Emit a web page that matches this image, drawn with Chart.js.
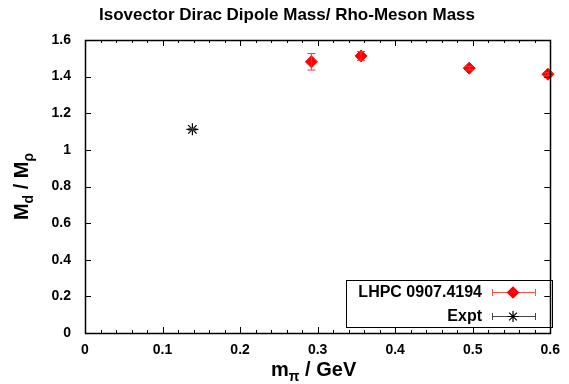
<!DOCTYPE html>
<html>
<head>
<meta charset="utf-8">
<script src="https://cdn.jsdelivr.net/npm/chart.js@4/dist/chart.umd.min.js"></script>
<style>
  html, body { margin: 0; padding: 0; background: #fff; }
  #wrap { width: 569px; height: 384px; }
</style>
</head>
<body>
<div id="wrap"><canvas id="chart" width="569" height="384"></canvas></div>
<script>
// data
const lhpcMpi = [0.292, 0.356, 0.4955, 0.597];
const lhpcRatio = [1.481, 1.513, 1.446, 1.413];
const lhpcErr = [0.045, 0.024, 0.010, 0.008];

const exptMpi = [0.1385];
const exptRatio = [1.112];
const exptErr = [0.005];

const xTickLabels = ['0', '0.1', '0.2', '0.3', '0.4', '0.5', '0.6'];
const yTickLabels = ['0', '0.2', '0.4', '0.6', '0.8', '1', '1.2', '1.4', '1.6'];

const seriesNames = ['LHPC 0907.4194', 'Expt'];

const FONT = '"Liberation Sans", Arial, sans-serif';

function toPoints(xs, ys, errs) {
    return xs.map((x, i) => ({ x: x, y: ys[i], err: errs[i] }));
}

// vertical error bars with caps
const errorBars = {
    id: 'errorBars',
    afterDatasetsDraw(chart) {
        const ctx = chart.ctx;
        const ys = chart.scales.y;
        chart.data.datasets.forEach((ds, di) => {
            const meta = chart.getDatasetMeta(di);
            ctx.save();
            ctx.strokeStyle = ds.errColor;
            ctx.lineWidth = 1;
            meta.data.forEach((el, i) => {
                const p = ds.data[i];
                const top = ys.getPixelForValue(p.y + p.err);
                const bot = ys.getPixelForValue(p.y - p.err);
                ctx.beginPath();
                ctx.moveTo(el.x, top); ctx.lineTo(el.x, bot);
                ctx.moveTo(el.x - 4, top); ctx.lineTo(el.x + 4, top);
                ctx.moveTo(el.x - 4, bot); ctx.lineTo(el.x + 4, bot);
                ctx.stroke();
            });
            ctx.restore();
        });
    }
};

// text with one subscript run: parts = [[text, isSub], ...]
function drawSubText(ctx, parts, x, y, bigFont, smallFont, align) {
    let total = 0;
    parts.forEach(p => { ctx.font = p[1] ? smallFont : bigFont; total += ctx.measureText(p[0]).width; });
    let cx = align === 'center' ? x - total / 2 : x;
    ctx.textAlign = 'left';
    parts.forEach(p => {
        ctx.font = p[1] ? smallFont : bigFont;
        ctx.fillText(p[0], cx, p[1] ? y + 5 : y);
        cx += ctx.measureText(p[0]).width;
    });
}

// gnuplot-style frame, inward ticks, titles and key
const decorations = {
    id: 'decorations',
    afterDraw(chart) {
        const ctx = chart.ctx;
        const a = chart.chartArea;
        const xs = chart.scales.x, ys = chart.scales.y;
        ctx.save();
        ctx.strokeStyle = '#000';
        ctx.lineWidth = 1;
        ctx.beginPath();
        for (let v = 0; v <= 0.6001; v += 0.02) {
            const px = Math.round(xs.getPixelForValue(v)) + 0.5;
            const major = Math.abs(v * 10 - Math.round(v * 10)) < 1e-6;
            const len = major ? 6 : 3;
            ctx.moveTo(px, a.bottom); ctx.lineTo(px, a.bottom - len);
            ctx.moveTo(px, a.top); ctx.lineTo(px, a.top + len);
        }
        for (let v = 0; v <= 1.6001; v += 0.2) {
            const py = Math.round(ys.getPixelForValue(v)) + 0.5;
            ctx.moveTo(a.left, py); ctx.lineTo(a.left + 6, py);
            ctx.moveTo(a.right, py); ctx.lineTo(a.right - 6, py);
        }
        ctx.stroke();
        ctx.lineWidth = 1.5;
        ctx.strokeRect(Math.round(a.left) + 0.5, Math.round(a.top) + 0.5,
            Math.round(a.right - a.left), Math.round(a.bottom - a.top));

        // title
        ctx.fillStyle = '#000';
        ctx.font = 'bold 17px ' + FONT;
        ctx.textAlign = 'center';
        ctx.textBaseline = 'alphabetic';
        ctx.fillText('Isovector Dirac Dipole Mass/ Rho-Meson Mass', 287, 20);

        const big = 'bold 20px ' + FONT, small = 'bold 14px ' + FONT;
        // x axis title: m_pi / GeV
        drawSubText(ctx, [['m', false], ['\u03c0', true], [' / GeV', false]],
            (a.left + a.right) / 2 - 4, 376, big, small, 'center');

        // y axis title: M_d / M_rho (rotated)
        ctx.save();
        ctx.translate(28, (a.top + a.bottom) / 2);
        ctx.rotate(-Math.PI / 2);
        drawSubText(ctx, [['M', false], ['d', true], [' / M', false], ['\u03c1', true]],
            0, 0, big, small, 'center');
        ctx.restore();

        // key box
        ctx.lineWidth = 1;
        ctx.strokeRect(346.5, 280.5, 206, 47);
        ctx.font = 'bold 16px ' + FONT;
        ctx.textAlign = 'right';
        ctx.textBaseline = 'middle';
        const rows = [
            { y: 292, color: '#ff0000', err: '#ff5050', style: 'rectRot' },
            { y: 316, color: '#000', err: '#444', style: 'star' }
        ];
        rows.forEach((r, i) => {
            ctx.fillStyle = '#000';
            ctx.fillText(seriesNames[i], 482, r.y + 1);
            ctx.strokeStyle = r.err;
            ctx.lineWidth = 1;
            ctx.beginPath();
            ctx.moveTo(492, r.y + 0.5); ctx.lineTo(536, r.y + 0.5);
            ctx.moveTo(492.5, r.y - 3); ctx.lineTo(492.5, r.y + 4);
            ctx.moveTo(535.5, r.y - 3); ctx.lineTo(535.5, r.y + 4);
            ctx.stroke();
            ctx.fillStyle = r.color;
            ctx.strokeStyle = r.color;
            ctx.lineWidth = 1.2;
            Chart.helpers.drawPoint(ctx, { pointStyle: r.style, radius: 5.5, borderWidth: 1.2 }, 513, r.y + 0.5);
        });
        ctx.restore();
    }
};

new Chart(document.getElementById('chart').getContext('2d'), {
    type: 'scatter',
    data: {
        datasets: [
            {
                label: seriesNames[0],
                data: toPoints(lhpcMpi, lhpcRatio, lhpcErr),
                pointStyle: 'rectRot',
                pointRadius: 6,
                backgroundColor: '#ff0000',
                borderColor: '#ff0000',
                borderWidth: 1,
                errColor: '#ff3030'
            },
            {
                label: seriesNames[1],
                data: toPoints(exptMpi, exptRatio, exptErr),
                pointStyle: 'star',
                pointRadius: 6,
                backgroundColor: '#000',
                borderColor: '#000',
                borderWidth: 1.2,
                errColor: '#444'
            }
        ]
    },
    options: {
        responsive: false,
        animation: false,
        clip: false,
        layout: { padding: { left: 0, top: 40, right: 15, bottom: 0 } },
        plugins: {
            legend: { display: false },
            tooltip: { enabled: false }
        },
        scales: {
            x: {
                type: 'linear',
                min: 0, max: 0.6,
                afterFit: s => { s.height = 51; },
                grid: { display: false, drawTicks: false },
                border: { display: false },
                ticks: {
                    stepSize: 0.1,
                    padding: 9,
                    color: '#000',
                    font: { family: FONT, size: 14, weight: 'bold' },
                    callback: (v, i) => xTickLabels[i]
                }
            },
            y: {
                type: 'linear',
                min: 0, max: 1.6,
                afterFit: s => { s.width = 85; },
                grid: { display: false, drawTicks: false },
                border: { display: false },
                ticks: {
                    stepSize: 0.2,
                    padding: 14,
                    color: '#000',
                    font: { family: FONT, size: 14, weight: 'bold' },
                    callback: (v, i) => yTickLabels[i]
                }
            }
        }
    },
    plugins: [errorBars, decorations]
});
</script>
</body>
</html>
